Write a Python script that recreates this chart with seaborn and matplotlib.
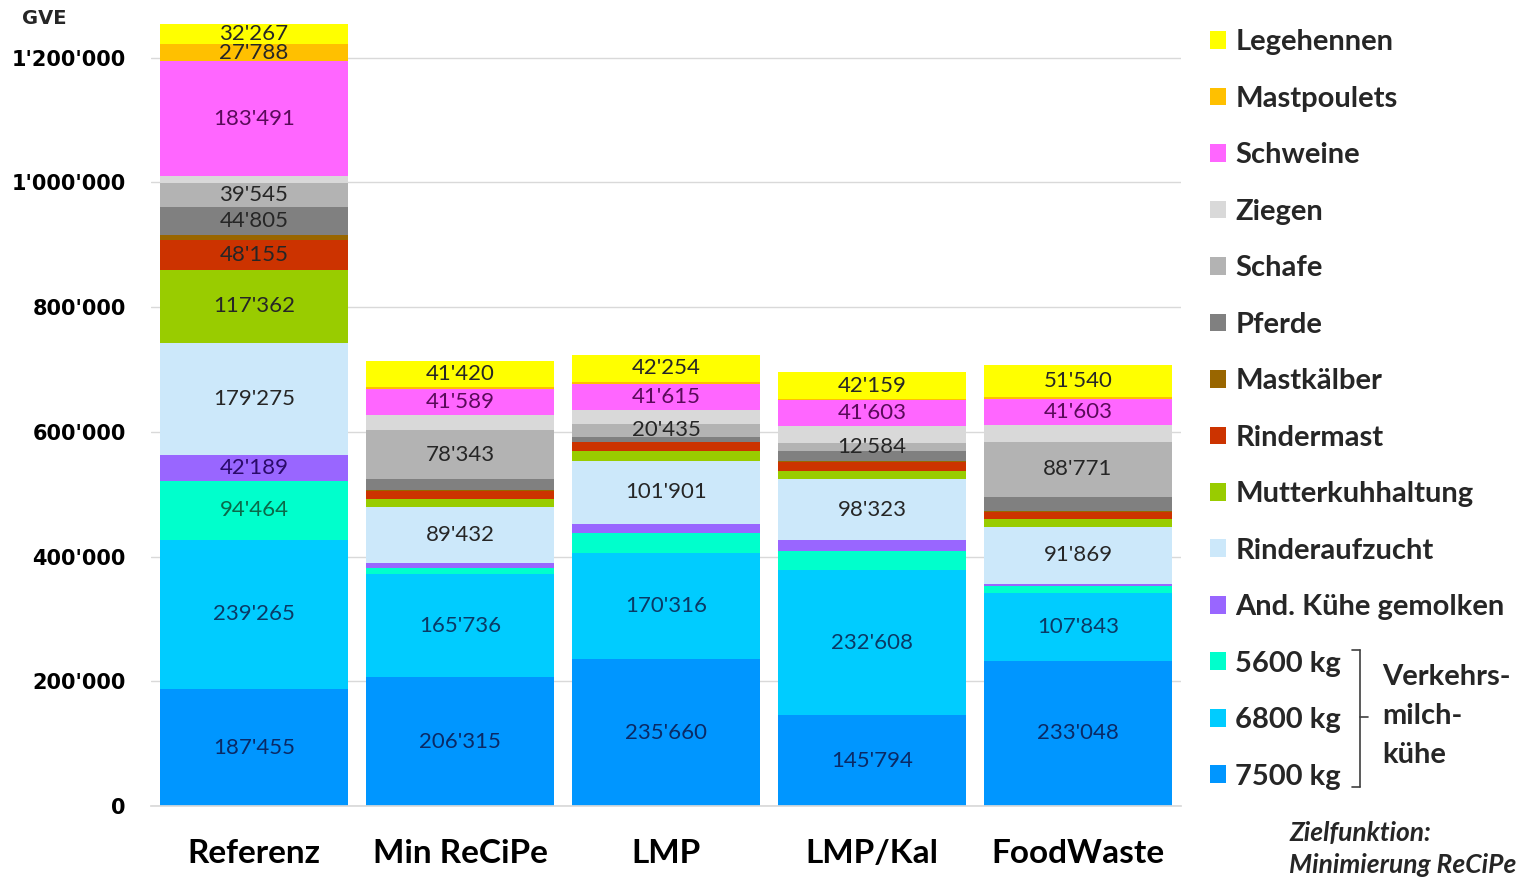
import matplotlib
matplotlib.use("Agg")
import matplotlib.pyplot as plt
import matplotlib.patches as mpatches
import matplotlib.lines as mlines
import matplotlib.ticker as mticker
import numpy as np
import seaborn as sns

scenarios = ["Referenz", "Min ReCiPe", "LMP", "LMP/Kal", "FoodWaste"]

# values in GVE, bottom segment first
kg7500 = [187455, 206315, 235660, 145794, 233048]
kg6800 = [239265, 165736, 170316, 232608, 107843]
kg5600 = [94464, 9000, 32000, 30700, 11300]
and_kuehe = [42189, 9000, 14000, 17000, 3800]
rinderaufzucht = [179275, 89432, 101901, 98323, 91869]
mutterkuh = [117362, 13000, 16000, 13400, 13000]
mastkaelber = [7000, 1500, 1500, 1500, 1500]
rindermast = [48155, 13000, 13000, 13500, 11000]
pferde = [44805, 17000, 8000, 17000, 22000]
schafe = [39545, 78343, 20435, 12584, 88771]
ziegen = [11000, 24000, 22000, 27000, 27500]
schweine = [183491, 41589, 41615, 41603, 41603]
mastpoulets = [27788, 4000, 4000, 2000, 2000]
legehennen = [32267, 41420, 42254, 42159, 51540]

series_names = ["7500 kg", "6800 kg", "5600 kg", "And. Kühe gemolken", "Rinderaufzucht",
                "Mutterkuhhaltung", "Rindermast", "Mastkälber", "Pferde", "Schafe",
                "Ziegen", "Schweine", "Mastpoulets", "Legehennen"]
series_values = [kg7500, kg6800, kg5600, and_kuehe, rinderaufzucht, mutterkuh, rindermast,
                 mastkaelber, pferde, schafe, ziegen, schweine, mastpoulets, legehennen]
colors = ["#0096FF", "#00CCFF", "#00FFCC", "#9966FF", "#CCE8FA", "#99CC00", "#CC3300",
          "#996600", "#808080", "#B3B3B3", "#D9D9D9", "#FF66FF", "#FFC000", "#FFFF00"]
text_colors = ["#0a2a66", "#0a3a66", "#0a6a4a", "#2a0a6a", "#262626", "#262626", "#262626",
               "#262626", "#262626", "#262626", "#262626", "#5a0a5a", "#262626", "#262626"]

# which segments carry a value label (Referenz labels almost all)
ref_labeled = {"7500 kg", "6800 kg", "5600 kg", "And. Kühe gemolken", "Rinderaufzucht",
               "Mutterkuhhaltung", "Rindermast", "Pferde", "Schafe", "Schweine",
               "Mastpoulets", "Legehennen"}
other_labeled = {"7500 kg", "6800 kg", "Rinderaufzucht", "Schafe", "Schweine", "Legehennen"}


def fmt(v):
    return f"{int(v):,}".replace(",", "'")


sns.set_theme(style="whitegrid")
plt.rcParams["font.family"] = ["DejaVu Sans"]

fig = plt.figure(figsize=(15.17, 8.81), dpi=100)
ax = fig.add_axes([0.0995, 0.0851, 0.679, 0.892])

vals = np.array(series_values, dtype=float)
cum = np.cumsum(vals, axis=0)

# stacked bars: draw cumulative totals from the top layer down
for i in range(len(series_names) - 1, -1, -1):
    sns.barplot(x=scenarios, y=cum[i], color=colors[i], saturation=1, width=0.91,
                errorbar=None, ax=ax, linewidth=0, zorder=2)

for i, name in enumerate(series_names):
    for j in range(len(scenarios)):
        labeled = ref_labeled if j == 0 else other_labeled
        if name in labeled:
            ax.text(j, cum[i, j] - vals[i, j] / 2, fmt(vals[i, j]), ha="center", va="center",
                    fontsize=16, family="Lato", color=text_colors[i], zorder=5)

ax.set_xlim(-0.5, 4.5)
ax.set_ylim(0, 1260000)
ax.set_yticks(range(0, 1200001, 200000))
ax.yaxis.set_major_formatter(mticker.FuncFormatter(lambda v, p: fmt(v)))
ax.grid(axis="y", color="#D9D9D9", linewidth=1)
ax.grid(axis="x", visible=False)
ax.set_axisbelow(True)
for s in ["top", "right", "left"]:
    ax.spines[s].set_visible(False)
ax.spines["bottom"].set_color("#D9D9D9")
ax.set_xlabel("")
ax.set_ylabel("")
ax.tick_params(axis="y", labelsize=15, pad=18, length=0)
ax.tick_params(axis="x", labelsize=24, pad=24, length=0)
for t in ax.get_yticklabels():
    t.set_fontweight("bold")
    t.set_color("black")
for t in ax.get_xticklabels():
    t.set_fontweight("bold")
    t.set_family("Lato")
    t.set_color("black")

fig.text(0.0145, 0.979, "GVE", fontsize=14, fontweight="bold", va="center", ha="left")

# legend, top entry first
handles = [mpatches.Patch(facecolor=colors[i], edgecolor="none", label=series_names[i])
           for i in range(len(series_names) - 1, -1, -1)]
leg = fig.legend(handles=handles, loc="upper left", bbox_to_anchor=(0.790, 0.980),
                 frameon=False, prop={"family": "Lato", "weight": "bold", "size": 21},
                 handlelength=0.55, handleheight=0.55, handletextpad=0.32, labelspacing=1.045,
                 borderaxespad=0)

# brace for the dairy cow entries
bx = 0.8965
y_top, y_mid, y_bot = 1 - 650 / 881, 1 - 717 / 881, 1 - 787 / 881
for xs, ys in [([0.8915, bx], [y_top, y_top]), ([bx, bx], [y_top, y_bot]),
               ([0.8915, bx], [y_bot, y_bot]), ([bx, 0.9015], [y_mid, y_mid])]:
    fig.add_artist(mlines.Line2D(xs, ys, color="#404040", linewidth=1.2))
fig.text(0.911, 1 - 716 / 881, "Verkehrs-\nmilch-\nkühe", fontsize=21, fontweight="bold",
         family="Lato", va="center", ha="left", linespacing=1.6)

fig.text(0.850, 1 - 849 / 881, "Zielfunktion:\nMinimierung ReCiPe", fontsize=19,
         fontweight="bold", style="italic", family="Lato", va="center", ha="left",
         linespacing=1.36)

fig.savefig("out.png", dpi=100)
